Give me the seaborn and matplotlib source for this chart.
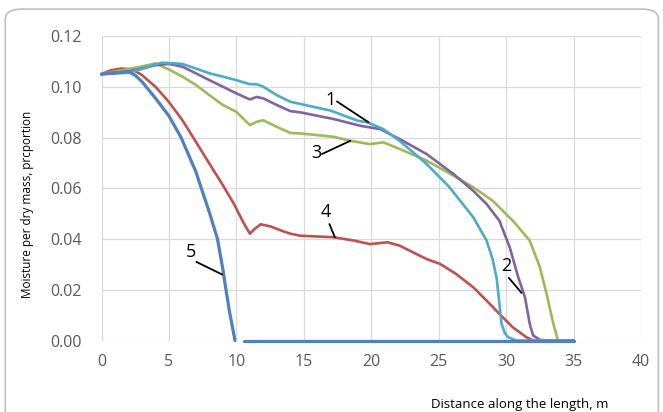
import numpy as np
import pandas as pd
import matplotlib
matplotlib.use("Agg")
import matplotlib.pyplot as plt
from matplotlib.patches import FancyBboxPatch
import seaborn as sns

# Moisture profiles along the dryer length (distance in m, moisture per dry mass)
x1 = [0, 1, 2, 3, 4, 4.5, 6, 7, 8, 9, 10, 11, 11.5, 12, 13, 14, 14.75, 17, 19, 19.7, 20.9,
      22.1, 24.1, 25.8, 27.56, 28.55, 29.0, 29.3, 29.66, 29.9, 30.15, 30.76, 35]
y1 = [0.105, 0.1052, 0.1055, 0.107, 0.1088, 0.1095, 0.109, 0.1072, 0.1053, 0.104, 0.1026,
      0.101, 0.101, 0.100, 0.0967, 0.0941, 0.0932, 0.0906, 0.0866, 0.086, 0.0833, 0.0787,
      0.0696, 0.0604, 0.0486, 0.0394, 0.032, 0.0245, 0.0066, 0.0030, 0.0013, 0.0, 0.0]

x2 = [0, 1, 2, 3, 4, 5, 6, 7, 8, 9, 10, 11, 11.5, 12, 13, 14, 14.75, 17.2, 19.2, 20.67,
      22.1, 24.1, 26.1, 27.56, 28.55, 29.5, 30.27, 30.9, 31.4, 31.75, 32.0, 32.5, 33, 35]
y2 = [0.105, 0.1055, 0.106, 0.1072, 0.1085, 0.109, 0.1079, 0.1053, 0.1026, 0.100, 0.0974,
      0.095, 0.096, 0.0954, 0.0928, 0.0904, 0.0899, 0.0873, 0.0846, 0.0833, 0.0794, 0.0735,
      0.0656, 0.059, 0.0538, 0.0472, 0.0367, 0.0249, 0.017, 0.0066, 0.002, 0.0003, 0.0, 0.0]

x3 = [0, 1, 2, 3, 4, 5, 6, 7, 8, 9, 10, 11, 11.5, 12, 13, 14, 14.75, 17.2, 18.45, 19.9,
      20.9, 22.1, 24.1, 26.1, 27.56, 29.0, 30.5, 31.75, 32.5, 33.0, 33.5, 33.85, 35]
y3 = [0.105, 0.106, 0.107, 0.108, 0.1092, 0.1068, 0.104, 0.1007, 0.0967, 0.0928, 0.0901,
      0.0849, 0.0862, 0.0868, 0.0842, 0.0818, 0.0816, 0.0803, 0.0787, 0.0774, 0.0781, 0.0755,
      0.0709, 0.065, 0.0604, 0.0551, 0.0472, 0.0394, 0.0289, 0.0184, 0.0066, 0.0, 0.0]

x4 = [0, 0.7, 1.5, 2.3, 3, 4, 5, 6, 7, 8, 9, 9.8, 10.5, 11, 11.3, 11.8, 12.5, 13.5,
      14, 14.75, 17.2, 18.7, 19.9, 21.2, 22.1, 24.1, 25.1, 26.3, 27.56, 28.8, 29.5, 30.5,
      31.5, 32, 35]
y4 = [0.105, 0.1065, 0.1072, 0.1068, 0.1046, 0.100, 0.094, 0.0868, 0.0783, 0.0697,
      0.0612, 0.054, 0.0467, 0.0421, 0.0437, 0.0458, 0.045, 0.043, 0.0421, 0.0413, 0.0407,
      0.0394, 0.038, 0.0387, 0.0374, 0.0321, 0.0302, 0.0262, 0.021, 0.0144, 0.0105, 0.0052,
      0.0013, 0.0, 0.0]

# Curve 5: falling part, then the zero plateau after a short break
x5 = [0, 1, 2, 2.5, 3, 4, 5, 5.9, 7, 7.4, 8, 8.6, 9, 9.2, 9.5, 9.9, 10.6, 35]
y5 = [0.105, 0.1055, 0.106, 0.1045, 0.102, 0.0955, 0.0885, 0.080, 0.0665, 0.060, 0.0505,
      0.040, 0.028, 0.021, 0.011, 0.0, 0.0, 0.0]
seg5 = [0] * 16 + [1, 1]

curve_ids = ["1", "2", "3", "4", "5"]
curve_x = [x1, x2, x3, x4, x5]
curve_y = [y1, y2, y3, y4, y5]
curve_colors = ["#4BACC6", "#8064A2", "#9BBB59", "#C0504D", "#4F81BD"]
draw_order = ["4", "3", "2", "1", "5"]

# Curve numbers: text position and leader line (start -> end) in data units
label_pos = {"1": (17.0, 0.0948), "2": (30.0, 0.0293), "3": (15.9, 0.0738),
             "4": (16.6, 0.0505), "5": (6.66, 0.0348)}
leader = {"1": ((17.46, 0.0942), (19.8, 0.0860)), "2": ((30.2, 0.0247), (31.14, 0.0188)),
          "3": ((16.35, 0.0735), (18.45, 0.0787)), "4": ((16.9, 0.0459), (17.3, 0.0407)),
          "5": ((7.03, 0.0310), (8.95, 0.0260))}

x_ticks = [0, 5, 10, 15, 20, 25, 30, 35, 40]
y_ticks = [0.00, 0.02, 0.04, 0.06, 0.08, 0.10, 0.12]

frames = []
for cid, xs, ys in zip(curve_ids, curve_x, curve_y):
    seg = seg5 if cid == "5" else [0] * len(xs)
    frames.append(pd.DataFrame({"distance": xs, "moisture": ys, "curve": cid, "seg": seg}))
df = pd.concat(frames, ignore_index=True)

sns.set_theme(style="white")
plt.rcParams["font.family"] = ["Open Sans", "DejaVu Sans"]

fig = plt.figure(figsize=(6.63, 4.12), dpi=100)
ax = fig.add_axes([0.1531, 0.1735, 0.8137, 0.7391])

palette = dict(zip(curve_ids, curve_colors))
for cid in draw_order:
    sub = df[df["curve"] == cid]
    sns.lineplot(data=sub, x="distance", y="moisture", units="seg", estimator=None,
                 color=palette[cid], linewidth=1.9 if cid != "5" else 2.3,
                 ax=ax, sort=False, legend=False)

# let the zero plateau show its full width on the axis line
for ln in ax.lines:
    ln.set_clip_on(False)
    ln.set_solid_joinstyle("round")
    ln.set_solid_capstyle("round")

for cid in curve_ids:
    tx, ty = label_pos[cid]
    ax.text(tx, ty, cid, fontsize=13, color="black", ha="center", va="center")
    (sx, sy), (ex, ey) = leader[cid]
    ax.plot([sx, ex], [sy, ey], color="black", linewidth=1.3)

ax.set_xlim(0, 40)
ax.set_ylim(0, 0.12)
ax.set_xticks(x_ticks)
ax.set_yticks(y_ticks)
ax.set_xticklabels([str(t) for t in x_ticks])
ax.set_yticklabels([f"{t:.2f}" for t in y_ticks])
ax.tick_params(axis="both", length=0, labelsize=11.5, labelcolor="#595959")
ax.tick_params(axis="x", pad=10)
ax.tick_params(axis="y", pad=14)
ax.grid(True, color="#D9D9D9", linewidth=0.9)
ax.set_axisbelow(True)
for s in ax.spines.values():
    s.set_visible(False)
ax.set_xlabel("")
ax.set_ylabel("")

fig.text(0.041, 0.505, "Moisture per dry mass, prcportion", rotation=90,
         ha="center", va="center", fontsize=8.5, color="black")
fig.text(0.784, 0.017, "Distance along the length, m", ha="center", va="center",
         fontsize=9.5, color="black")

frame = FancyBboxPatch((0.008, -0.1), 0.985, 1.078, boxstyle="round,pad=0,rounding_size=0.025",
                       transform=fig.transFigure, facecolor="none", edgecolor="#BFBFBF",
                       linewidth=1.2, clip_on=False)
fig.patches.append(frame)

fig.savefig("out.png", dpi=100)
